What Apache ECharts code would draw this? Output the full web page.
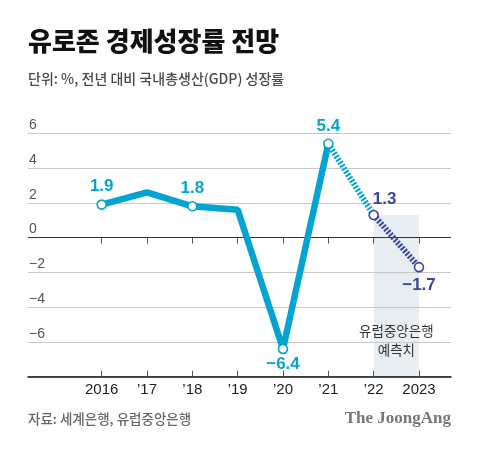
<!DOCTYPE html>
<html><head><meta charset="utf-8">
<script src="https://cdn.jsdelivr.net/npm/echarts@6/dist/echarts.min.js"></script>
<style>html,body{margin:0;padding:0;background:#fff}#c{width:480px;height:449px}</style>
</head><body><div id="c"></div>
<script>
// ---- data ----
const categories = ['2016', '’17', '’18', '’19', '’20', '’21', '’22', '2023'];
const actual = [1.9, 2.6, 1.8, 1.6, -6.4, 5.4, null, null];
const forecastLink = [null, null, null, null, null, 5.4, 1.3, null];
const forecastECB = [null, null, null, null, null, null, 1.3, -1.7];
const markedPoints = ['2016', '’18', '’20', '’21', '’22', '2023'];
const yTicks = [-8, -6, -4, -2, 0, 2, 4, 6];
const shadeLabel = '유럽중앙은행\n예측치';
const titleText = '유로존 경제성장률 전망';
const subtitleText = '단위: %, 전년 대비 국내총생산(GDP) 성장률';
const sourceText = '자료: 세계은행, 유럽중앙은행';
const brandText = 'The JoongAng';

// ---- styles ----
const CYAN = '#05a3d4';
const NAVY = '#3a4698';
const fmt = v => (v < 0 ? '\u2212' + Math.abs(v) : String(v));
const labelPlacement = {
  '2016': {position: 'top', distance: 4},
  '’18': {position: 'top', distance: 4},
  '’20': {position: 'bottom', distance: 2},
  '’21': {position: 'top', distance: 4},
  '’22': {position: 'top', distance: 2, offset: [11, 0]},
  '2023': {position: 'bottom', distance: 4}
};
function build(values, color, withMarks) {
  return values.map((v, i) => {
    if (v == null) return '-';
    const cat = categories[i];
    const marked = withMarks && markedPoints.includes(cat);
    const it = {value: v, symbol: marked ? 'circle' : 'none'};
    if (marked) {
      it.label = Object.assign({show: true, formatter: p => fmt(p.value), color: color,
        fontSize: 17, fontWeight: 'bold', fontFamily: 'Liberation Sans, Arial, sans-serif'}, labelPlacement[cat]);
    }
    return it;
  });
}

const gTop = 133.3, gBottom = 449 - 376.7;
const chart = echarts.init(document.getElementById('c'), null, {renderer: 'canvas'});
const yMin = Math.min(...yTicks), yMax = Math.max(...yTicks);

chart.setOption({
  animation: false,
  grid: [
    {left: 28, right: 29, top: gTop, bottom: gBottom},
    {left: 101.7, right: 61, top: gTop, bottom: gBottom}
  ],
  xAxis: [
    {gridIndex: 0, type: 'value', min: 0, max: 1, position: 'bottom', z: 10,
      axisLine: {show: true, onZero: false, lineStyle: {color: '#111', width: 1.5}},
      axisTick: {show: false}, axisLabel: {show: false}, splitLine: {show: false}},
    {gridIndex: 1, type: 'category', data: categories, boundaryGap: false, position: 'bottom',
      axisLine: {show: false, onZero: false},
      axisTick: {show: true, inside: true, length: 6, lineStyle: {color: '#555'}},
      axisLabel: {margin: 6, color: '#222', fontSize: 15, fontFamily: 'Liberation Sans, Arial, sans-serif', interval: 0},
      splitLine: {show: false}, z: 10},
    {gridIndex: 1, type: 'category', data: categories, boundaryGap: false, position: 'top', z: 4,
      axisLine: {show: false, onZero: true},
      axisTick: {show: true, inside: true, length: 6, lineStyle: {color: '#555'}},
      axisLabel: {show: false}, splitLine: {show: false}}
  ],
  yAxis: [
    {gridIndex: 0, type: 'value', min: yMin, max: yMax, interval: 2, z: 3,
      axisLine: {show: false}, axisTick: {show: false},
      axisLabel: {inside: true, margin: 1, verticalAlign: 'bottom', padding: [0, 0, 1, 0],
        color: '#555', fontSize: 14, fontFamily: 'Liberation Sans, Arial, sans-serif',
        formatter: v => (v === yMin ? '' : fmt(v))},
      splitLine: {show: true, lineStyle: {color: '#c8c8c8', width: 1}}},
    {gridIndex: 1, type: 'value', min: yMin, max: yMax, interval: 2, show: false}
  ],
  series: [
    {type: 'line', xAxisIndex: 1, yAxisIndex: 1, data: [], silent: true, z: 1,
      markArea: {silent: true, itemStyle: {color: 'rgba(175,195,210,0.3)'},
        label: {show: true, position: 'insideBottom', distance: 17, color: '#333', fontSize: 13.5,
          lineHeight: 19, fontFamily: 'Noto Sans CJK KR, sans-serif'},
        data: [[{xAxis: categories[6], yAxis: forecastECB[6], name: shadeLabel},
                {xAxis: categories[7], yAxis: yMin}]]}},
    {type: 'line', xAxisIndex: 0, yAxisIndex: 0, data: [], silent: true, z: 4,
      markLine: {silent: true, symbol: 'none', label: {show: false},
        lineStyle: {color: '#333', width: 1.2, type: 'solid'}, data: [{yAxis: 0}]}},
    {type: 'line', xAxisIndex: 1, yAxisIndex: 1, data: build(forecastECB, NAVY, true),
      symbolSize: 9, itemStyle: {color: '#fff', borderColor: NAVY, borderWidth: 1.6},
      lineStyle: {color: NAVY, width: 6, type: [2, 1.6], cap: 'butt'}, z: 7},
    {type: 'line', xAxisIndex: 1, yAxisIndex: 1, data: build(forecastLink, CYAN, false),
      symbol: 'none', lineStyle: {color: CYAN, width: 6, type: [2, 1.6], cap: 'butt'}, z: 6},
    {type: 'line', xAxisIndex: 1, yAxisIndex: 1, data: build(actual, CYAN, true),
      symbolSize: 9, itemStyle: {color: '#fff', borderColor: CYAN, borderWidth: 1.6},
      lineStyle: {color: CYAN, width: 6.5}, z: 8}
  ],
  graphic: [
    {type: 'text', left: 28, top: 28, style: {text: titleText, fill: '#111',
      font: '900 26px "Noto Sans CJK KR", sans-serif'}},
    {type: 'text', left: 28, top: 72, style: {text: subtitleText, fill: '#4a4a4a',
      font: '500 14px "Noto Sans CJK KR", sans-serif'}},
    {type: 'text', left: 28, top: 412, style: {text: sourceText, fill: '#666',
      font: '500 13.5px "Noto Sans CJK KR", sans-serif'}},
    {type: 'text', right: 29, top: 410, style: {text: brandText, fill: '#777',
      font: 'bold 17px "Liberation Serif", serif'}}
  ]
});
</script></body></html>
